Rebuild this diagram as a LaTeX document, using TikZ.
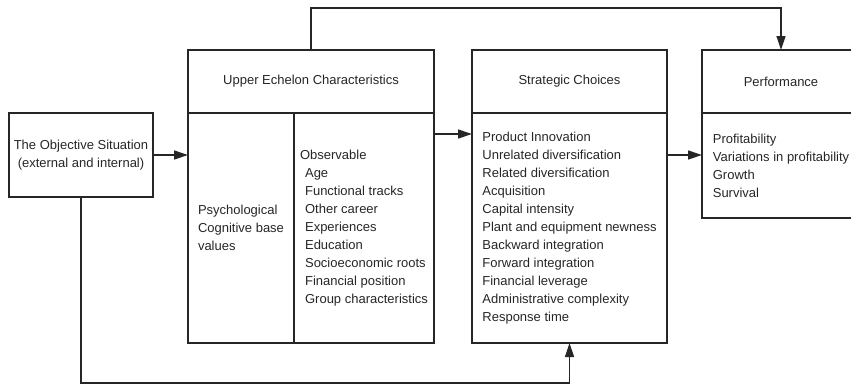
\documentclass[tikz,border=0pt]{standalone}
\usepackage{fontspec}
\setmainfont{Liberation Sans}
\usetikzlibrary{arrows.meta, positioning, calc}
\tikzstyle{head} = [rectangle, draw, outer sep=0pt, minimum height=63pt, align=center]
\tikzstyle{body} = [rectangle, draw, outer sep=0pt, align=left]
\tikzstyle{line} = [draw, -{Triangle[length=14pt, width=9pt]}]

\begin{document}
\begin{tikzpicture}[x=1pt, y=-1pt, line width=1.3pt, color=black!85,
    font=\fontsize{13}{18}\selectfont]
        \useasboundingbox (0,0) rectangle (851,386);

        % Nodes
        \node [body, align=center, minimum width=144pt, minimum height=84pt] (obj) at (81,155)
            {The Objective Situation\\(external and internal)};

        \node [head, minimum width=246pt] (ueh) at (311,81.5) {Upper Echelon Characteristics};
        \node [body, minimum width=106pt, minimum height=230pt,
            below=0pt of ueh.south west, anchor=north west] (uel)
            {Psychological\\Cognitive base\\values};
        \node [body, minimum width=140pt, minimum height=230pt, right=0pt of uel] (uer)
            {Observable\\\hspace*{5pt}Age\\\hspace*{5pt}Functional tracks\\\hspace*{5pt}Other career\\
             \hspace*{5pt}Experiences\\\hspace*{5pt}Education\\\hspace*{5pt}Socioeconomic roots\\
             \hspace*{5pt}Financial position\\\hspace*{5pt}Group characteristics};

        \node [head, minimum width=195pt] (sch) at (569.5,81.5) {Strategic Choices};
        \node [body, minimum width=195pt, minimum height=230pt, below=0pt of sch] (scb)
            {Product Innovation\\Unrelated diversification\\Related diversification\\Acquisition\\
             Capital intensity\\Plant and equipment newness\\Backward integration\\Forward integration\\
             Financial leverage\\Administrative complexity\\Response time};

        \node [head, minimum width=158pt] (perfh) at (781,81.5) {Performance};
        \node [body, minimum width=158pt, minimum height=105pt, below=0pt of perfh] (perfb)
            {Profitability\\Variations in profitability\\Growth\\Survival};

        % Lines
        \path [line] (obj.east) -- (obj.east -| uel.west);
        \path [line] ($(uer.north east)+(0,21)$) -- ($(scb.north west)+(0,21)$);
        \path [line] ($(scb.north east)+(0,42)$) -- ($(perfb.north west)+(0,42)$);
        \path [line] (ueh.north) -- ++(0,-42) -| (perfh.north);
        \path [line] (obj.south) -- ++(0,186) -| (scb.south);
    \end{tikzpicture}
\end{document}
